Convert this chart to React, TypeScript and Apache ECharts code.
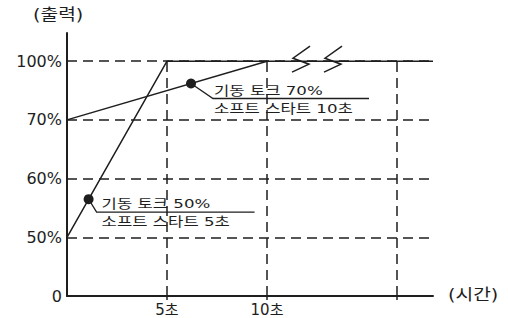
import React, { useEffect, useRef } from "react";
import * as echarts from "echarts";

// ---- data ----
const yLevelLabels = ["0", "50%", "60%", "70%", "100%"];
const yLevelValues = [0, 1, 2, 3, 4];
const xTickValues = [5, 10, 16.5];
const xLabelValues = [5, 10];
const xLabelSuffix = "초";
const xMax = 18.3;
const yMax = 4.48;
const softStart50 = [
  [0, 1],
  [5, 4],
  [18.3, 4],
];
const softStart70 = [
  [0, 3],
  [10, 4],
];
const gridLevels = [1, 2, 3, 4];
const verticalLines = [5, 10, 16.5];
const annotationPoints = [
  [1.08, 1.65],
  [6.2, 3.62],
];
const annotationTexts = [
  ["기동 토크 50%", "소프트 스타트 5초"],
  ["기동 토크 70%", "소프트 스타트 10초"],
];
const breakMarks = [
  [11.7, 4],
  [13.3, 4],
];
const yAxisTitle = "(출력)";
const xAxisTitle = "(시간)";

// ---- styles ----
const INK = "#1e1e1e";
const KFONT = '"DejaVu Sans", "Noto Sans CJK KR", sans-serif';
const NFONT = '"DejaVu Sans", sans-serif';
const leaderStyle = [
  { dx: 8, dy: 13, len: 158, tx: 5, t1: -8, t2: 10 },
  { dx: 22, dy: 15, len: 156, tx: 1, t1: -8, t2: 10 },
];

export default function App() {
  const ref = useRef<HTMLDivElement>(null);
  useEffect(() => {
    document.body.style.margin = "0";
    const chart = echarts.init(ref.current!, null, { renderer: "svg" });
    const dashed = { color: INK, width: 1.5, type: [10, 6] as any };
    chart.setOption({
      animation: false,
      backgroundColor: "#ffffff",
      grid: {
        left: 67,
        right: 75,
        top: 33,
        bottom: 22,
        containLabel: false,
        outerBoundsMode: "none",
      },
      xAxis: {
        type: "value",
        min: 0,
        max: xMax,
        splitLine: { show: false },
        axisLine: { lineStyle: { color: INK, width: 2 } },
        axisTick: {
          show: true,
          customValues: xTickValues,
          length: 4,
          lineStyle: { color: INK, width: 1.5 },
        },
        axisLabel: {
          customValues: xLabelValues,
          formatter: (v: number) => v + xLabelSuffix,
          color: INK,
          fontFamily: KFONT,
          fontSize: 15,
          margin: 6,
        },
      },
      yAxis: {
        type: "value",
        min: 0,
        max: yMax,
        splitLine: { show: false },
        axisLine: { show: true, lineStyle: { color: INK, width: 2 } },
        axisTick: { show: false },
        axisLabel: {
          customValues: yLevelValues,
          formatter: (v: number) => yLevelLabels[yLevelValues.indexOf(v)] ?? "",
          color: INK,
          fontFamily: NFONT,
          fontSize: 16,
          margin: 5,
        },
      },
      graphic: [
        {
          type: "text",
          x: 33,
          y: 15,
          scaleX: 1.2,
          style: {
            text: yAxisTitle,
            fill: INK,
            font: `16px ${KFONT}`,
            verticalAlign: "middle",
          },
        },
        {
          type: "text",
          x: 448,
          y: 295,
          scaleX: 1.2,
          style: {
            text: xAxisTitle,
            fill: INK,
            font: `16px ${KFONT}`,
            verticalAlign: "middle",
          },
        },
      ],
      series: [
        {
          type: "line",
          name: "grid",
          data: [],
          silent: true,
          markLine: {
            silent: true,
            symbol: "none",
            label: { show: false },
            lineStyle: dashed,
            data: [
              ...gridLevels.map((v) => [{ coord: [0, v] }, { coord: [xMax, v] }]),
              ...verticalLines.map((x) => [{ coord: [x, 0] }, { coord: [x, 4] }]),
            ],
          },
        },
        {
          type: "line",
          name: "50%",
          data: softStart50,
          showSymbol: false,
          lineStyle: { color: INK, width: 1.5 },
          z: 3,
        },
        {
          type: "line",
          name: "70%",
          data: softStart70,
          showSymbol: false,
          lineStyle: { color: INK, width: 1.5 },
          z: 3,
        },
        {
          type: "custom",
          name: "breaks",
          data: breakMarks,
          z: 4,
          renderItem: (_p: any, api: any) => {
            const c = api.coord([api.value(0), api.value(1)]);
            return {
              type: "polyline",
              shape: {
                points: [
                  [c[0] + 9, c[1] - 15],
                  [c[0] - 8, c[1] - 3],
                  [c[0] + 8, c[1] + 3],
                  [c[0] - 9, c[1] + 11],
                ],
              },
              style: { stroke: INK, lineWidth: 1.5, fill: null },
            };
          },
        },
        {
          type: "custom",
          name: "annotations",
          data: annotationPoints,
          z: 5,
          renderItem: (params: any, api: any) => {
            const p = api.coord([api.value(0), api.value(1)]);
            const s = leaderStyle[params.dataIndex];
            const t = annotationTexts[params.dataIndex];
            const x1 = p[0] + s.dx;
            const y1 = p[1] + s.dy;
            const textEl = (txt: string, dy: number) => ({
              type: "text",
              x: x1 + s.tx,
              y: y1 + dy,
              scaleX: 1.28,
              style: {
                text: txt,
                fill: INK,
                font: `13px ${KFONT}`,
                verticalAlign: "middle",
              },
            });
            return {
              type: "group",
              children: [
                {
                  type: "polyline",
                  shape: { points: [p, [x1, y1], [x1 + s.len, y1]] },
                  style: { stroke: INK, lineWidth: 1.3, fill: null },
                },
                {
                  type: "circle",
                  shape: { cx: p[0], cy: p[1], r: 5 },
                  style: { fill: INK },
                },
                textEl(t[0], s.t1),
                textEl(t[1], s.t2),
              ],
            };
          },
        },
      ],
    });
    return () => chart.dispose();
  }, []);
  return <div ref={ref} style={{ width: 508, height: 318 }} />;
}
